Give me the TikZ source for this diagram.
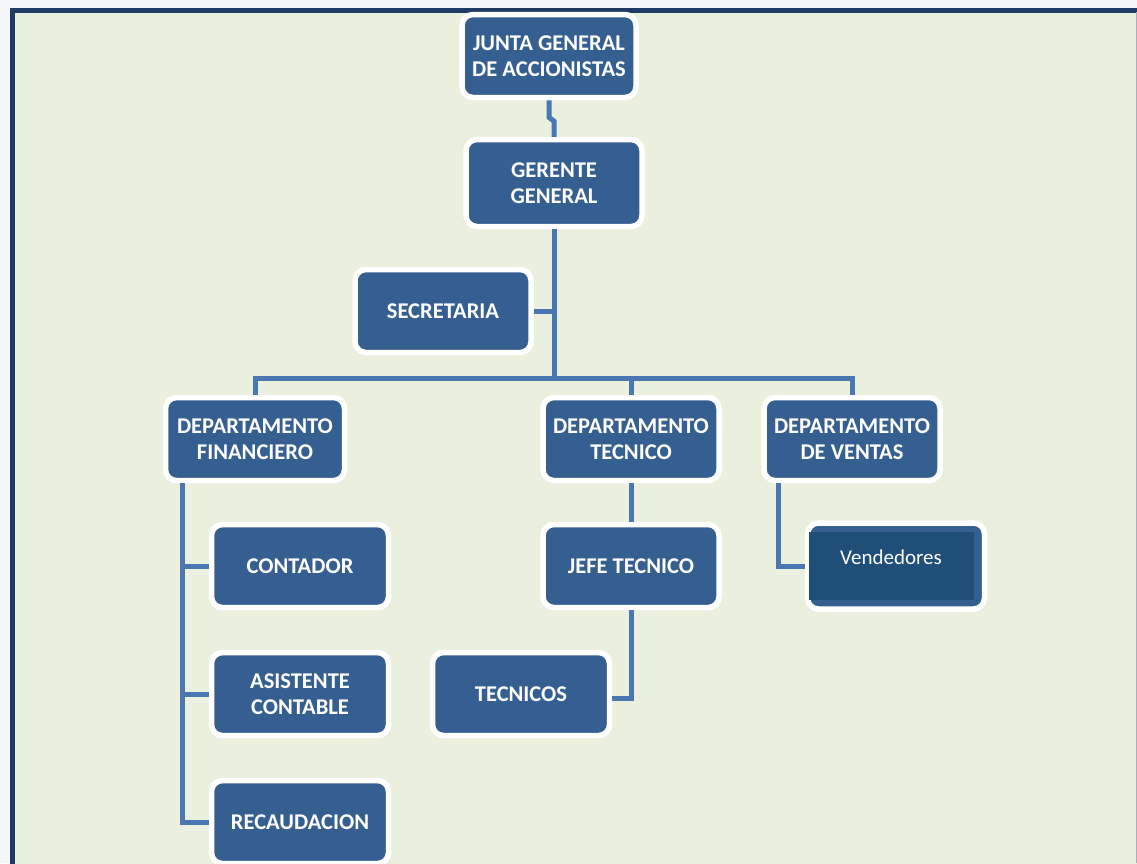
\documentclass[tikz,border=0pt]{standalone}
\usepackage{fontspec}
\setmainfont{Carlito}
\definecolor{pagebg}{HTML}{F4F6FB}
\definecolor{panelbg}{HTML}{EBEFDE}
\definecolor{framecol}{HTML}{1F3B63}
\definecolor{boxblue}{HTML}{365F91}
\definecolor{darkblue}{HTML}{1F4E79}
\definecolor{linkblue}{HTML}{4A77B2}
\begin{document}
\begin{tikzpicture}[x=1pt,y=-1pt,
  orgbox/.style={rectangle, rounded corners=11pt, fill=boxblue, draw=white,
    line width=5.5pt, minimum width=176pt, minimum height=83pt, inner sep=0pt,
    text=white, align=center, font=\bfseries\fontsize{22.5}{26}\selectfont},
  link/.style={draw=linkblue, line width=5pt}]
  \useasboundingbox (0,0) rectangle (1137,863);
  \clip (0,0) rectangle (1137,863);
  % page and framed panel
  \fill[pagebg] (0,0) rectangle (1137,863);
  \fill[panelbg] (12,10) rectangle (1137,870);
  \draw[framecol, line width=5pt] (12.5,880) -- (12.5,10.5) -- (1140,10.5);
  \draw[framecol!40, line width=1pt] (1136.5,12) -- (1136.5,863);

  % boxes
  \node[orgbox, minimum width=174pt] (junta) at (549,56) {JUNTA GENERAL\\DE ACCIONISTAS};
  \node[orgbox, minimum width=176pt, minimum height=87pt] (gerente) at (554,183) {GERENTE\\GENERAL};
  \node[orgbox] (secre) at (443,311) {SECRETARIA};
  \node[orgbox, minimum width=179pt] (fin) at (255,439) {DEPARTAMENTO\\FINANCIERO};
  \node[orgbox] (tec) at (631,439) {DEPARTAMENTO\\TECNICO};
  \node[orgbox] (ven) at (852,439) {DEPARTAMENTO\\DE VENTAS};
  \node[orgbox, minimum width=177pt] (contador) at (300,566) {CONTADOR};
  \node[orgbox, minimum width=177pt] (asist) at (300,694) {ASISTENTE\\CONTABLE};
  \node[orgbox, minimum width=177pt] (recaud) at (300,822) {RECAUDACION};
  \node[orgbox] (jefe) at (631,566) {JEFE TECNICO};
  \node[orgbox, minimum width=177pt] (tecnicos) at (521,694) {TECNICOS};
  \node[orgbox, minimum width=177pt, minimum height=86pt] (vend) at (896,566) {};
  \fill[darkblue] (809,532) rectangle (974,600);
  \node[text=white, font=\fontsize{21}{26}\selectfont, inner sep=0pt] (vendtxt) at (891,557) {Vendedores};

  % connectors
  \coordinate (bus) at (554,378);
  \draw[link] (junta.south) -- ++(0,17) -- ++(5,4) -- (gerente.north);
  \draw[link] (gerente.south) -- (bus);
  \draw[link] (secre.east) -- (secre.east -| bus);
  \draw[link] (fin.north) |- (ven.north |- bus) -- (ven.north);
  \draw[link] (tec.north) -- (tec.north |- bus);
  \coordinate (finspine) at ([xshift=-73pt]fin.south);
  \draw[link] (finspine) |- (recaud.west);
  \draw[link] (contador.west) -- (contador.west -| finspine);
  \draw[link] (asist.west) -- (asist.west -| finspine);
  \draw[link] (tec.south) -- (jefe.north);
  \draw[link] (jefe.south) |- ([yshift=-4pt]tecnicos.east);
  \coordinate (venspine) at ([xshift=-74pt]ven.south);
  \draw[link] (venspine) |- (vend.west);
\end{tikzpicture}
\end{document}
